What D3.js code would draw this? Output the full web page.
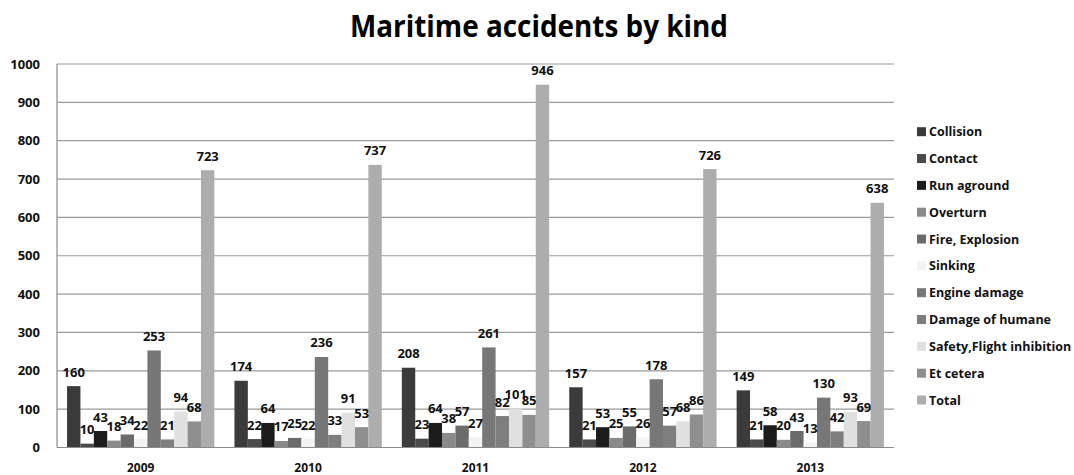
<!DOCTYPE html>
<html><head><meta charset="utf-8">
<script src="https://cdn.jsdelivr.net/npm/d3@7"></script>
<style>body{margin:0;background:#fff}svg{display:block}text{font-family:"Open Sans",sans-serif;font-weight:700}</style>
</head><body><svg id="c" width="1074" height="475"></svg>
<script>
const years = ["2009","2010","2011","2012","2013"];
const kinds = ["Collision","Contact","Run aground","Overturn","Fire, Explosion","Sinking","Engine damage","Damage of humane","Safety,Flight inhibition","Et cetera","Total"];
const colors = ["#3b3b3b","#4a4a4a","#1c1c1c","#8a8a8a","#6b6b6b","#f3f3f3","#777777","#7e7e7e","#e0e0e0","#8f8f8f","#adadad"];
const collision = [160,174,208,157,149];
const contact = [10,22,23,21,21];
const runAground = [43,64,64,53,58];
const overturn = [18,17,38,25,20];
const fireExplosion = [34,25,57,55,43];
const sinking = [22,22,27,26,13];
const engineDamage = [253,236,261,178,130];
const damageHumane = [21,33,82,57,42];
const safetyFlight = [94,91,101,68,93];
const etCetera = [68,53,85,86,69];
const total = [723,737,946,726,638];
const yTicks = [0,100,200,300,400,500,600,700,800,900,1000];
const series = [collision,contact,runAground,overturn,fireExplosion,sinking,engineDamage,damageHumane,safetyFlight,etCetera,total];

const svg = d3.select("#c");
const L = 57, R = 894, T = 64, B = 447.5;
const x0 = d3.scaleBand().domain(years).range([L, R]).paddingInner(0).paddingOuter(0);
const x1 = d3.scaleBand().domain(kinds).range([0, x0.bandwidth()]).paddingInner(0).paddingOuter(0.75);
const y = d3.scaleLinear().domain([0,1000]).range([B, T]);

svg.append("text").attr("x", 539).attr("y", 37).attr("text-anchor","middle")
  .attr("font-size", 30).attr("textLength",378).attr("lengthAdjust","spacingAndGlyphs")
  .text("Maritime accidents by kind");

// gridlines
svg.append("g").selectAll("line").data(yTicks.filter(d=>d>0)).join("line")
  .attr("x1", L).attr("x2", R).attr("y1", d=>y(d)).attr("y2", d=>y(d))
  .attr("stroke", "#9a9a9a").attr("stroke-width", 1.2);

// y axis labels
svg.append("g").selectAll("text").data(yTicks).join("text")
  .attr("x", 40).attr("y", d=>y(d)+4.5).attr("text-anchor","end").attr("font-size", 13).attr("fill","#111")
  .text(d=>d);

// bars
const g = svg.append("g");
years.forEach((yr, i) => {
  const gg = g.append("g").attr("transform", `translate(${x0(yr)},0)`);
  gg.selectAll("rect").data(kinds).join("rect")
    .attr("x", k => x1(k)).attr("width", x1.bandwidth())
    .attr("y", (k,j) => y(series[j][i])).attr("height", (k,j) => B - y(series[j][i]))
    .attr("fill", (k,j) => colors[j]);
  gg.selectAll("text").data(kinds).join("text")
    .attr("x", k => x1(k) + x1.bandwidth()/2).attr("y", (k,j) => y(series[j][i]) - 9.5)
    .attr("text-anchor","middle").attr("font-size", 13).attr("fill","#111")
    .text((k,j) => series[j][i]);
  svg.append("text").attr("x", x0(yr)+x0.bandwidth()/2).attr("y", 472).attr("text-anchor","middle")
    .attr("font-size", 12).attr("fill","#111").text(yr);
});

// axes lines
svg.append("line").attr("x1",L).attr("x2",L).attr("y1",T).attr("y2",B).attr("stroke","#8a8a8a").attr("stroke-width",1.2);
svg.append("line").attr("x1",L).attr("x2",R).attr("y1",B).attr("y2",B).attr("stroke","#8a8a8a").attr("stroke-width",1.2);

// legend
const lg = svg.append("g");
kinds.forEach((k, j) => {
  const cy = 131.7 + j*26.83;
  lg.append("rect").attr("x", 917).attr("y", cy-4.5).attr("width", 9).attr("height", 9).attr("fill", colors[j]);
  lg.append("text").attr("x", 929).attr("y", cy+4.5).attr("font-size", 12.5).attr("fill","#111").text(k);
});
</script></body></html>
